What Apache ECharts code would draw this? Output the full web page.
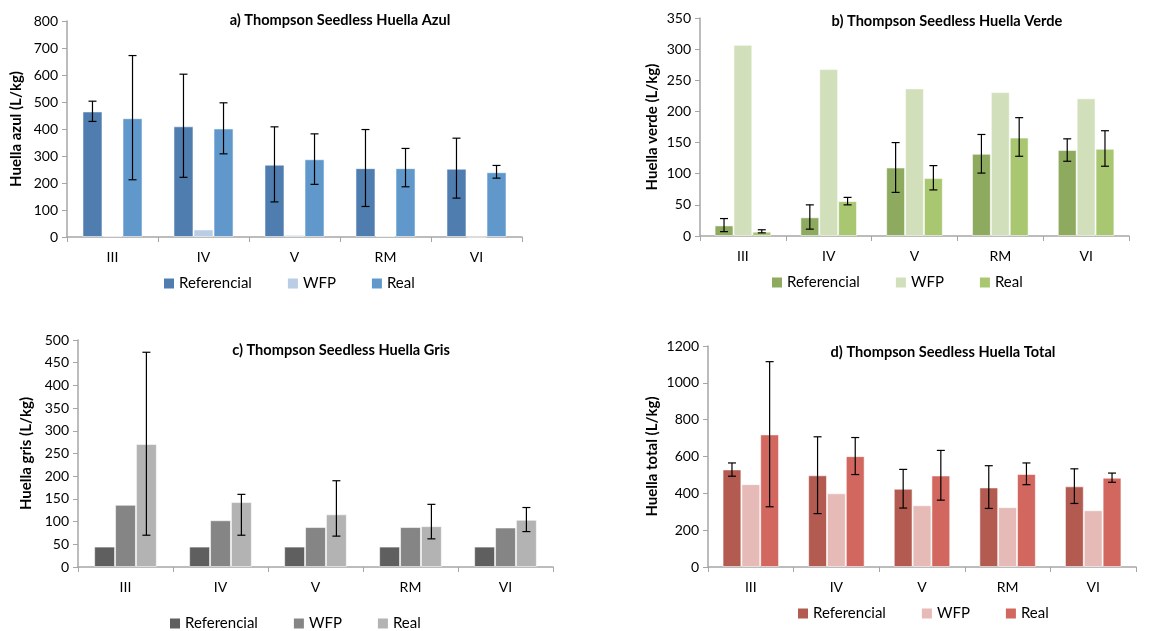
<!DOCTYPE html>
<html>
<head>
<meta charset="utf-8">
<script src="https://cdn.jsdelivr.net/npm/echarts@6/dist/echarts.min.js"></script>
<style>
  html, body { margin: 0; padding: 0; background: #fff; }
  #chart { width: 1166px; height: 631px; }
</style>
</head>
<body>
<div id="chart"></div>
<script>
var categories = ['III', 'IV', 'V', 'RM', 'VI'];
var seriesNames = ['Referencial', 'WFP', 'Real'];

// a) Huella azul
var azulRef = [465, 410, 268, 255, 253];
var azulWfp = [5, 28, 8, 4, 0];
var azulReal = [440, 402, 288, 255, 240];
var azulRefErr = [[428, 503], [221, 603], [130, 408], [113, 398], [144, 366]];
var azulRealErr = [[212, 672], [308, 497], [195, 382], [186, 328], [218, 265]];

// b) Huella verde
var verdeRef = [17, 30, 110, 132, 138];
var verdeWfp = [307, 268, 237, 231, 221];
var verdeReal = [7, 56, 93, 158, 140];
var verdeRefErr = [[7, 28], [11, 50], [70, 150], [101, 163], [120, 156]];
var verdeRealErr = [[5, 10], [50, 62], [74, 113], [128, 190], [112, 169]];

// c) Huella gris
var grisRef = [45, 45, 45, 45, 45];
var grisWfp = [137, 103, 88, 88, 87];
var grisReal = [271, 143, 116, 90, 104];
var grisRealErr = [[70, 473], [70, 160], [68, 190], [62, 138], [78, 131]];

// d) Huella total
var totalRef = [530, 498, 425, 432, 438];
var totalWfp = [450, 400, 335, 325, 308];
var totalReal = [720, 602, 497, 505, 485];
var totalRefErr = [[493, 565], [290, 707], [320, 530], [318, 550], [345, 533]];
var totalRealErr = [[327, 1115], [502, 703], [363, 633], [447, 565], [460, 510]];

var font = 'Lato, "Open Sans", sans-serif';
var axisGrey = '#a6a6a6';

var panels = [
  { title: 'a) Thompson Seedless Huella Azul', titleX: 335, titleY: 8,
    yName: 'Huella azul (L/kg)', nameGap: 43, max: 800, interval: 100,
    grid: { left: 67, top: 21, width: 455, height: 216 },
    legend: { left: 159, top: 271 },
    colors: ['#4f7db0', '#b9cde5', '#6198cc'],
    data: [azulRef, azulWfp, azulReal], err: [azulRefErr, null, azulRealErr] },
  { title: 'b) Thompson Seedless Huella Verde', titleX: 942, titleY: 9,
    yName: 'Huella verde (L/kg)', nameGap: 40, max: 350, interval: 50,
    grid: { left: 700, top: 18, width: 429, height: 218 },
    legend: { left: 767, top: 270 },
    colors: ['#8eaa5e', '#d1e0ba', '#a9c771'],
    data: [verdeRef, verdeWfp, verdeReal], err: [verdeRefErr, null, verdeRealErr] },
  { title: 'c) Thompson Seedless Huella Gris', titleX: 336, titleY: 338,
    yName: 'Huella gris (L/kg)', nameGap: 44, max: 500, interval: 50,
    grid: { left: 78, top: 340, width: 475, height: 227 },
    legend: { left: 165, top: 611 },
    colors: ['#5f5f5f', '#858585', '#b3b3b3'],
    data: [grisRef, grisWfp, grisReal], err: [null, null, grisRealErr] },
  { title: 'd) Thompson Seedless Huella Total', titleX: 938, titleY: 340,
    yName: 'Huella total (L/kg)', nameGap: 48, max: 1200, interval: 200,
    grid: { left: 708, top: 346, width: 428, height: 221 },
    legend: { left: 793, top: 601 },
    colors: ['#b35a51', '#e5bab7', '#d2675f'],
    data: [totalRef, totalWfp, totalReal], err: [totalRefErr, null, totalRealErr] }
];

function errorRender(slot) {
  return function (params, api) {
    var idx = api.value(0);
    var lo = api.coord([idx, api.value(1)]);
    var hi = api.coord([idx, api.value(2)]);
    var band = api.size([1, 0])[0];
    var barW = band * 0.66 / 3;
    var x = lo[0] + (slot - 1) * barW;
    var cap = 4;
    var style = { stroke: '#000', lineWidth: 1.2 };
    return {
      type: 'group',
      children: [
        { type: 'line', shape: { x1: x, y1: hi[1], x2: x, y2: lo[1] }, style: style },
        { type: 'line', shape: { x1: x - cap, y1: hi[1], x2: x + cap, y2: hi[1] }, style: style },
        { type: 'line', shape: { x1: x - cap, y1: lo[1], x2: x + cap, y2: lo[1] }, style: style }
      ]
    };
  };
}

var option = {
  animation: false,
  textStyle: { fontFamily: font },
  title: [], legend: [], grid: [], xAxis: [], yAxis: [], series: []
};

panels.forEach(function (p, i) {
  option.title.push({
    text: p.title, left: p.titleX, top: p.titleY, textAlign: 'center',
    textStyle: { fontFamily: font, fontSize: 14.6, fontWeight: 'bold', color: '#000' }
  });
  option.grid.push(p.grid);
  option.legend.push({
    left: p.legend.left, top: p.legend.top, icon: 'rect', itemWidth: 10, itemHeight: 10,
    itemGap: 36, selectedMode: false,
    data: seriesNames.map(function (n, s) {
      return { name: n, itemStyle: { color: p.colors[s], borderWidth: 0 } };
    }),
    textStyle: { fontFamily: font, fontSize: 15, color: '#000' }
  });
  option.xAxis.push({
    type: 'category', gridIndex: i, data: categories,
    axisLine: { lineStyle: { color: axisGrey, width: 1.5 } },
    axisTick: { show: true, length: 5, lineStyle: { color: axisGrey } },
    axisLabel: { color: '#000', fontSize: 14, margin: 13 },
    splitLine: { show: false }
  });
  option.yAxis.push({
    type: 'value', gridIndex: i, min: 0, max: p.max, interval: p.interval,
    name: p.yName, nameLocation: 'middle', nameRotate: 90, nameGap: p.nameGap,
    nameTextStyle: { fontFamily: font, fontSize: 15, fontWeight: 'bold', color: '#000' },
    axisLine: { show: true, lineStyle: { color: axisGrey, width: 1.5 } },
    axisTick: { show: true, length: 5, lineStyle: { color: axisGrey } },
    axisLabel: { color: '#000', fontSize: 14, margin: 9, formatter: function (v) { return String(v); } },
    splitLine: { show: false }
  });
  seriesNames.forEach(function (name, s) {
    option.series.push({
      name: name, type: 'bar', xAxisIndex: i, yAxisIndex: i,
      data: p.data[s], barGap: '0%', barCategoryGap: '34%',
      itemStyle: { color: p.colors[s], borderColor: 'rgba(255,255,255,0.55)', borderWidth: 1 },
      legendHoverLink: false
    });
  });
  p.err.forEach(function (e, s) {
    if (!e) return;
    option.series.push({
      type: 'custom', xAxisIndex: i, yAxisIndex: i, z: 10,
      renderItem: errorRender(s),
      data: e.map(function (r, k) { return [k, r[0], r[1]]; }),
      encode: { x: 0, y: [1, 2] }
    });
  });
});

var chart = echarts.init(document.getElementById('chart'));
chart.setOption(option);
</script>
</body>
</html>
